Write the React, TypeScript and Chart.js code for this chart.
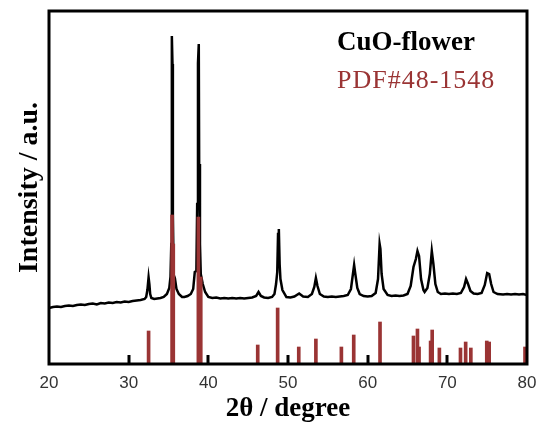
import React, { useEffect, useRef } from 'react';
import { Chart, registerables } from 'chart.js';

Chart.register(...registerables);

// Measured XRD pattern of the CuO-flower sample (2θ in degrees, intensity in a.u.)
const sampleTheta = [
  20.0, 20.5, 21.0, 21.5, 22.0, 22.5, 23.0, 23.5, 24.0, 24.5, 25.0, 25.5, 26.0, 26.5, 27.0, 27.5,
  28.0, 28.5, 29.0, 29.5, 30.0, 30.5, 31.0, 31.5, 32.0, 32.2, 32.35, 32.5, 32.6, 32.7, 32.85, 33.2,
  33.6, 34.0, 34.4, 34.8, 35.1, 35.25, 35.35, 35.42, 35.5, 35.55, 35.65, 35.8, 36.0, 36.3, 36.7, 37.0,
  37.4, 37.8, 38.1, 38.3, 38.5, 38.6, 38.7, 38.8, 38.85, 38.95, 39.05, 39.3, 39.6, 40.0, 40.5, 41.0,
  41.5, 42.0, 42.5, 43.0, 43.5, 44.0, 44.5, 45.0, 45.5, 46.0, 46.3, 46.6, 47.0, 47.5, 48.0, 48.3,
  48.5, 48.65, 48.75, 48.85, 48.95, 49.05, 49.3, 49.8, 50.3, 50.8, 51.4, 51.9, 52.5, 53.0, 53.3, 53.5,
  53.7, 54.0, 54.5, 55.0, 55.5, 56.0, 56.5, 57.0, 57.5, 57.9, 58.15, 58.3, 58.45, 58.7, 59.0, 59.5,
  60.0, 60.5, 61.0, 61.3, 61.5, 61.6, 61.75, 62.0, 62.5, 63.0, 63.5, 64.0, 64.5, 65.0, 65.4, 65.75,
  66.05, 66.25, 66.45, 66.7, 67.0, 67.15, 67.5, 67.8, 68.05, 68.25, 68.5, 68.8, 69.2, 69.7, 70.2, 70.7,
  71.2, 71.7, 72.1, 72.35, 72.6, 72.9, 73.3, 73.8, 74.3, 74.7, 75.0, 75.25, 75.5, 75.8, 76.3, 77.0,
  77.5, 78.0, 78.5, 79.0, 79.5, 80.0,
];
const sampleIntensity = [
  56, 57, 57.5, 57, 58, 58.5, 58, 59, 59.5, 59, 60, 60.5, 59.5, 61, 60.5, 61.5,
  61, 62, 61.5, 62.5, 62, 63, 63.5, 64, 65, 67, 74, 86.7, 80, 70, 66, 65,
  65.5, 66, 67, 70, 76, 87, 120, 328, 300, 150, 89, 86, 75, 70, 67, 67,
  68, 70, 75, 92, 93, 160, 301, 320, 200, 120, 90, 80, 72, 67, 66, 66.5,
  65.5, 66, 65.5, 66, 65.5, 66, 65.5, 66, 66.5, 68, 72, 68, 66.5, 66, 67, 70,
  80, 92, 130, 135, 100, 85, 74, 67, 66.5, 67.5, 70.5, 67.5, 67, 70, 77, 86,
  78, 70, 67.5, 67, 67.5, 67, 67.5, 68, 69, 75, 90, 99, 90, 76, 70, 68,
  67.5, 68, 71, 85, 120, 115, 90, 75, 69, 68, 68.5, 68, 68.5, 70, 78, 97,
  105, 113, 108, 85, 74, 72, 76, 90, 113, 100, 80, 72, 70, 70.5, 70, 70.5,
  70, 71, 77, 85, 80, 73, 70.5, 70, 71, 79, 91, 90, 80, 72, 70, 69.5,
  70, 69.5, 70, 69.5, 70, 69,
];

// Reference lines of PDF#48-1548
const refTheta = [
  32.5, 35.45, 35.6, 38.75, 39.05, 46.2, 48.7, 51.35, 53.5, 56.7, 58.25, 61.55,
  65.75, 66.25, 66.45, 67.9, 68.1, 69.0, 71.65, 72.3, 72.95, 74.95, 75.25, 79.75,
];
const refIntensity = [
  33, 149, 120, 147, 87, 19, 56, 17, 25, 17, 29, 42,
  28, 35, 17, 23, 34, 16, 16, 22, 16, 23, 22, 17,
];

const xTickValues = [20, 30, 40, 50, 60, 70, 80];
const innerTickValues = [30, 40, 50, 60, 70];
const sampleLabel = 'CuO-flower';
const refLabel = 'PDF#48-1548';
const xTitle = '2θ / degree';
const yTitle = 'Intensity / a.u.';

const RED = '#9a3434';
const SERIF = '"Liberation Serif", "Times New Roman", serif';

const decorPlugin = {
  id: 'decor',
  afterDatasetsDraw(chart: any) {
    const { ctx, chartArea } = chart;
    const xs = chart.scales.x;
    ctx.save();
    // inner tick marks
    ctx.fillStyle = '#000';
    innerTickValues.forEach((v) => {
      const px = xs.getPixelForValue(v);
      ctx.fillRect(Math.round(px) - 1.5, chartArea.bottom - 9, 3, 9);
    });
    // frame
    ctx.strokeStyle = '#000';
    ctx.lineWidth = 3;
    ctx.strokeRect(chartArea.left, chartArea.top, chartArea.right - chartArea.left, chartArea.bottom - chartArea.top);
    // legend texts
    ctx.textAlign = 'left';
    ctx.textBaseline = 'alphabetic';
    ctx.fillStyle = '#000';
    ctx.font = `bold 27px ${SERIF}`;
    ctx.fillText(sampleLabel, 337, 50);
    ctx.fillStyle = RED;
    ctx.font = `26px ${SERIF}`;
    try { (ctx as any).letterSpacing = '1px'; } catch (e) {}
    ctx.fillText(refLabel, 337, 88);
    try { (ctx as any).letterSpacing = '0px'; } catch (e) {}
    // x title
    ctx.fillStyle = '#000';
    ctx.font = `bold 27px ${SERIF}`;
    ctx.textAlign = 'center';
    ctx.fillText(xTitle, (chartArea.left + chartArea.right) / 2, 416);
    // y title
    ctx.translate(37, (chartArea.top + chartArea.bottom) / 2);
    ctx.rotate(-Math.PI / 2);
    ctx.font = `bold 28px ${SERIF}`;
    ctx.fillText(yTitle, 0, 0);
    ctx.restore();
  },
};

export default function App() {
  const canvasRef = useRef<HTMLCanvasElement | null>(null);

  useEffect(() => {
    const canvas = canvasRef.current;
    if (!canvas) return;
    const chart = new Chart(canvas, {
      type: 'bar',
      data: {
        datasets: [
          {
            type: 'bar',
            label: refLabel,
            data: refTheta.map((x, i) => ({ x, y: refIntensity[i] })),
            backgroundColor: RED,
            barThickness: 3,
            order: 0,
          } as any,
          {
            type: 'line',
            label: sampleLabel,
            data: sampleTheta.map((x, i) => ({ x, y: sampleIntensity[i] })),
            borderColor: '#000',
            borderWidth: 2.5,
            pointRadius: 0,
            tension: 0,
            fill: false,
            order: 1,
          } as any,
        ],
      },
      options: {
        responsive: false,
        animation: false,
        events: [],
        layout: { padding: { left: 49, right: 12, top: 11, bottom: 33 } },
        plugins: { legend: { display: false }, tooltip: { enabled: false }, title: { display: false } },
        scales: {
          x: {
            type: 'linear',
            min: 20,
            max: 80,
            offset: false,
            grid: { display: false, drawTicks: false },
            border: { display: false },
            afterBuildTicks: (scale: any) => {
              scale.ticks = xTickValues.map((v) => ({ value: v }));
            },
            afterFit: (scale: any) => {
              scale.height = 28;
              scale.paddingLeft = 0;
              scale.paddingRight = 0;
            },
            ticks: {
              autoSkip: false,
              maxRotation: 0,
              padding: 9,
              color: '#333',
              font: { family: '"Liberation Sans", Arial, sans-serif', size: 17 },
            },
          },
          y: {
            type: 'linear',
            display: false,
            min: 0,
            max: 353,
          },
        },
      } as any,
      plugins: [decorPlugin],
    });
    return () => chart.destroy();
  }, []);

  return (
    <div style={{ position: 'absolute', left: 0, top: 0, width: 539, height: 425, background: '#fff' }}>
      <canvas ref={canvasRef} width={539} height={425} style={{ width: 539, height: 425 }} />
    </div>
  );
}
